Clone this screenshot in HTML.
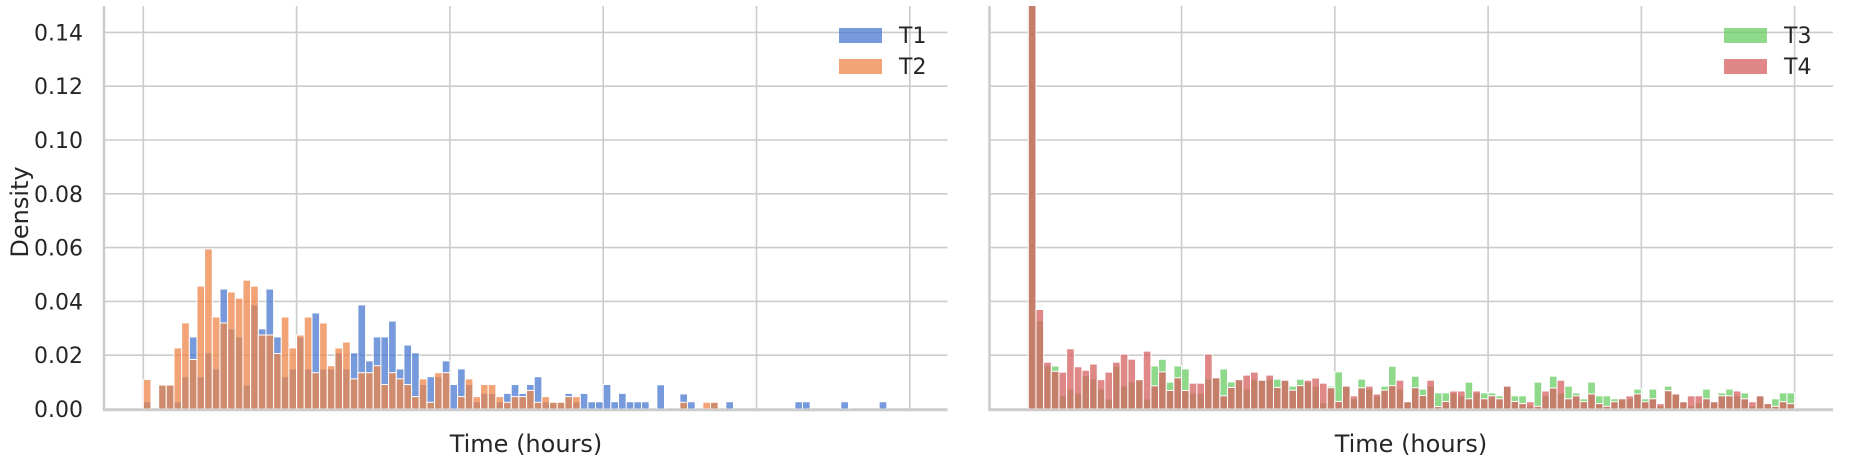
<!DOCTYPE html>
<html><head><meta charset="utf-8"><style>
html,body{margin:0;padding:0;background:#fff;}
svg{display:block;font-family:"DejaVu Sans","Liberation Sans",sans-serif;}
</style></head><body>
<svg id="chart" width="1857" height="460" viewBox="0 0 1857 460" xmlns="http://www.w3.org/2000/svg">
<defs>
<clipPath id="clipL"><rect x="104" y="6" width="843.5" height="403"/></clipPath>
<clipPath id="clipR"><rect x="989.5" y="6" width="843.5" height="403"/></clipPath>
</defs>
<g id="gridL"></g>
<g id="gridR"></g>
<g id="barsL" clip-path="url(#clipL)"></g>
<g id="barsR" clip-path="url(#clipR)"></g>
<g id="axes"></g>
<text transform="translate(28,212) rotate(-90)" text-anchor="middle" font-size="24" fill="#262626">Density</text>
<text x="526" y="452" text-anchor="middle" font-size="24" fill="#262626">Time (hours)</text>
<text x="1411" y="452" text-anchor="middle" font-size="24" fill="#262626">Time (hours)</text>
<g>
<rect x="839" y="28" width="43" height="15" fill="#4878D0" fill-opacity="0.75"/>
<text x="899" y="43" font-size="22" fill="#262626">T1</text>
<rect x="839" y="59" width="43" height="15" fill="#EE854A" fill-opacity="0.75"/>
<text x="899" y="74" font-size="22" fill="#262626">T2</text>
</g>
<g>
<rect x="1724" y="28" width="43" height="15" fill="#6ACC64" fill-opacity="0.75"/>
<text x="1784" y="43" font-size="22" fill="#262626">T3</text>
<rect x="1724" y="59" width="43" height="15" fill="#D65F5F" fill-opacity="0.75"/>
<text x="1784" y="74" font-size="22" fill="#262626">T4</text>
</g>
</svg>
<script>
const yTicks = [0, 0.02, 0.04, 0.06, 0.08, 0.10, 0.12, 0.14];
const yTickLabels = ["0.00","0.02","0.04","0.06","0.08","0.10","0.12","0.14"];
const xGridBins = [0, 20, 40, 60, 80, 100];
const T1 = [
0.0027,0,0.0089,0.0089,0.0027,0.012,0.0268,0.012,0.0209,0.0149,
0.0446,0.0298,0.0268,0.0089,0.0387,0.0298,0.0446,0.0268,0.012,0.0149,
0.0268,0.0149,0.0357,0.0149,0.0149,0.0209,0.0149,0.0209,0.0387,0.0179,
0.0268,0.0268,0.0327,0.0149,0.0238,0.0209,0.0091,0.012,0.012,0.0179,
0.0091,0.0149,0.0091,0.0027,0.0058,0.0058,0.0027,0.0058,0.0091,0.0058,
0.0091,0.012,0.0027,0.0027,0.0027,0.0058,0.0027,0.0058,0.0027,0.0027,
0.0091,0.0027,0.0058,0.0027,0.0027,0.0027,0,0.009,0,0,
0.0056,0.0027,0,0,0.0025,0,0.0027,0,0,0,
0,0,0,0,0,0.0027,0.0027,0,0,0,
0,0.0027,0,0,0,0,0.0027,0,0,0];
const T2 = [
0.011,0,0.0089,0.0089,0.0227,0.032,0.0184,0.0457,0.0595,0.0342,
0.032,0.0435,0.0412,0.0479,0.0457,0.0275,0.0275,0.0206,0.0342,0.0227,
0.0275,0.0342,0.0135,0.032,0.0161,0.0227,0.0249,0.0112,0.0135,0.0135,
0.0161,0.0091,0.0135,0.0112,0.0091,0.0046,0.0112,0.0025,0.0135,0.0135,
0,0.0046,0.0112,0.0046,0.0091,0.0091,0.0046,0.0025,0.0046,0.0046,
0.0069,0.0025,0.0046,0.0025,0.0025,0.0046,0.0046,0,0,0,
0,0,0,0,0,0,0,0,0,0,
0.0025,0,0,0.0025,0.0025,0,0,0,0,0,
0,0,0,0,0,0,0,0,0,0,
0,0,0,0,0,0,0,0,0,0];
const T3 = [
0.17,0.0327,0.016,0.016,0.0049,0.0074,0.0059,0.0124,0.0112,0.0074,
0.0037,0.016,0.0086,0.0101,0.0109,0.0037,0.016,0.0185,0.01,0.016,
0.0149,0.0059,0.0059,0.0112,0.0116,0.0149,0.0101,0.0109,0.0074,0.0111,
0.0107,0.0111,0.0111,0.0107,0.0085,0.0111,0.01,0.0085,0.0023,0.0085,
0.0138,0.0085,0.0038,0.0111,0.0074,0.0049,0.0085,0.0159,0.0074,0.0027,
0.0122,0.0074,0.0085,0.006,0.006,0.006,0.0049,0.01,0.006,0.006,
0.006,0.0049,0.0085,0.0049,0.0049,0.0012,0.01,0.0049,0.0122,0.006,
0.0085,0.006,0.0038,0.01,0.0049,0.0049,0.0038,0.0038,0.0038,0.0074,
0.0038,0.0074,0.0012,0.0085,0.0056,0.0027,0.0012,0.0023,0.0074,0.0027,
0.006,0.0074,0.0049,0.006,0.0012,0.0049,0.002,0.0038,0.006,0.006];
const T4 = [
0.19,0.037,0.0174,0.014,0.0137,0.0224,0.0157,0.0144,0.0167,0.0109,
0.0137,0.0174,0.0204,0.0185,0.0109,0.0215,0.0086,0.0138,0.0069,0.0116,
0.0069,0.0096,0.0096,0.0204,0.0116,0.0049,0.008,0.0109,0.0126,0.0137,
0.0107,0.0126,0.008,0.0107,0.007,0.0087,0.0107,0.0115,0.0096,0.0079,
0.0028,0.0085,0.0049,0.0079,0.0085,0.0056,0.007,0.0087,0.0107,0.0027,
0.0079,0.005,0.0107,0.0009,0.0028,0.0067,0.0067,0.0038,0.0067,0.0038,
0.0049,0.0038,0.0085,0.0028,0.002,0.0027,0.001,0.0067,0.0078,0.0107,
0.0038,0.0049,0.0027,0.0056,0.002,0.001,0.0027,0.0038,0.0049,0.0056,
0.0027,0.0038,0.002,0.0068,0.0056,0.0027,0.0049,0.0049,0.0038,0.0027,
0.0049,0.0049,0.0067,0.0038,0.0027,0.0049,0.002,0.001,0.0027,0.002];

const NS = "http://www.w3.org/2000/svg";
const Y0 = 409, YPX = 2690;
function yScale(v){ return Y0 - v*YPX; }
function makeX(bin0, w){ return b => bin0 + b*w; }
const panels = [
  {x0:104, x1:947.5, xs:makeX(143.3,7.665), w:7.665, grid:"gridL", bars:"barsL", series:[[T1,"#4878D0","t1"],[T2,"#EE854A","t2"]], side:"left"},
  {x0:989.5, x1:1833, xs:makeX(1028.3,7.663), w:7.663, grid:"gridR", bars:"barsR", series:[[T3,"#6ACC64","t3"],[T4,"#D65F5F","t4"]], side:"right"}
];
function el(tag, attrs, parent){
  const e = document.createElementNS(NS, tag);
  for (const k in attrs) e.setAttribute(k, attrs[k]);
  parent.appendChild(e);
  return e;
}
const axes = document.getElementById("axes");
panels.forEach(p => {
  const g = document.getElementById(p.grid);
  yTicks.forEach((t, i) => {
    const y = yScale(t);
    const ln = el("line", {x1:p.x0, x2:p.x1, y1:y, y2:y, stroke:"#cccccc", "stroke-width":1.6}, g);
    
    
    if (p.side === "left") {
      const tx = el("text", {x:83, y:y+8, "text-anchor":"end", "font-size":22, fill:"#262626"}, axes);
      tx.textContent = yTickLabels[i];
      
      
    }
  });
  xGridBins.forEach(b => {
    const x = p.xs(b);
    const ln = el("line", {x1:x, x2:x, y1:6, y2:Y0, stroke:"#cccccc", "stroke-width":1.6}, g);
    
    
  });
  const bg = document.getElementById(p.bars);
  p.series.forEach(([data, color, key]) => {
    data.forEach((v, i) => {
      if (v <= 0) return;
      const y = yScale(v);
      const r = el("rect", {x:p.xs(i), y:y, width:p.w, height:Y0-y, fill:color, "fill-opacity":0.75, stroke:"#ffffff", "stroke-width":1}, bg);
      
      
    });
  });
  const sl = el("line", {x1:p.x0, x2:p.x0, y1:6, y2:Y0+1, stroke:"#cccccc", "stroke-width":2.5}, axes);
  
  
  const sb = el("line", {x1:p.x0-1, x2:p.x1, y1:Y0+1, y2:Y0+1, stroke:"#cccccc", "stroke-width":2.5}, axes);
  
  
});
</script>
</body></html>
